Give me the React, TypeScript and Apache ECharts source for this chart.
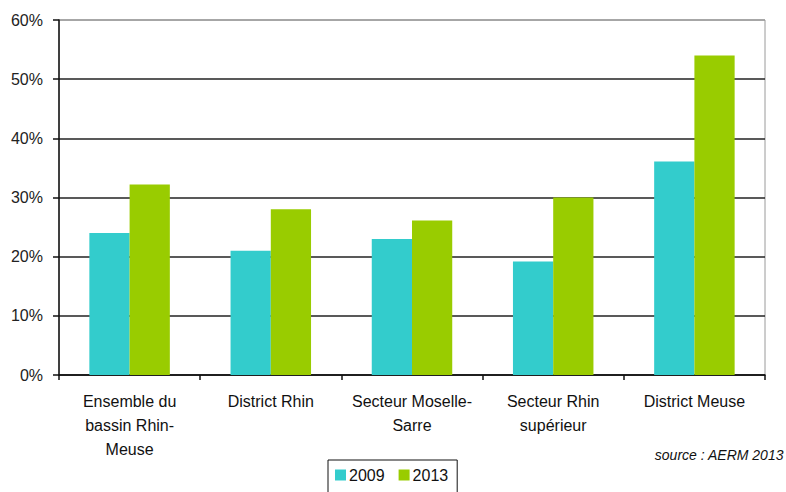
import React, { useEffect, useRef } from "react";
import * as echarts from "echarts";

const categories = [
  "Ensemble du\nbassin Rhin-\nMeuse",
  "District Rhin",
  "Secteur Moselle-\nSarre",
  "Secteur Rhin\nsupérieur",
  "District Meuse",
];
const values2009 = [24, 21, 23, 19.2, 36.1];
const values2013 = [32.2, 28, 26.1, 30, 54];
const seriesNames = ["2009", "2013"];
const sourceText = "source : AERM 2013";

export default function App() {
  const ref = useRef<HTMLDivElement>(null);
  useEffect(() => {
    if (!ref.current) return;
    const chart = echarts.init(ref.current, null, { renderer: "svg" });
    const font = "'Liberation Sans', Arial, sans-serif";
    chart.setOption({
      animation: false,
      backgroundColor: "#ffffff",
      textStyle: { fontFamily: font },
      grid: {
        left: 59,
        right: 21,
        top: 20,
        bottom: 117,
        show: true,
        borderColor: "#9a9a9a",
        borderWidth: 1,
        backgroundColor: "transparent",
      },
      legend: {
        data: seriesNames,
        left: 328,
        top: 460,
        icon: "rect",
        itemWidth: 11,
        itemHeight: 11,
        itemGap: 14,
        padding: [7, 9, 10, 7],
        borderColor: "#111",
        borderWidth: 1,
        textStyle: { fontSize: 16, color: "#111", fontFamily: font, padding: [0, 0, 0, -2] },
      },
      xAxis: {
        type: "category",
        data: categories,
        axisLine: { lineStyle: { color: "#111", width: 1.5 } },
        axisTick: { show: true, length: 5, lineStyle: { color: "#111", width: 1.5 } },
        axisLabel: {
          interval: 0,
          fontSize: 16,
          lineHeight: 24,
          color: "#111",
          margin: 14,
          fontFamily: font,
        },
        splitLine: { show: false },
      },
      yAxis: {
        type: "value",
        min: 0,
        max: 60,
        interval: 10,
        axisLine: { show: true, lineStyle: { color: "#111", width: 1.5 } },
        axisTick: { show: true, length: 6, lineStyle: { color: "#111", width: 1.5 } },
        axisLabel: {
          formatter: "{value}%",
          fontSize: 16,
          color: "#222",
          margin: 16,
          fontFamily: font,
        },
        splitLine: {
          show: true,
          lineStyle: {
            color: ["#222", "#222", "#222", "#222", "#222", "#222", "#9a9a9a"],
            width: 1.5,
          },
        },
      },
      series: [
        {
          name: seriesNames[0],
          type: "bar",
          data: values2009,
          itemStyle: { color: "#33CCCC" },
          barGap: "0%",
          barCategoryGap: "43%",
        },
        {
          name: seriesNames[1],
          type: "bar",
          data: values2013,
          itemStyle: { color: "#99CC00" },
          barGap: "0%",
          barCategoryGap: "43%",
        },
      ],
      graphic: [
        {
          type: "text",
          right: 2,
          top: 448,
          style: {
            text: sourceText,
            fontSize: 14,
            fontStyle: "italic",
            fill: "#111",
            fontFamily: font,
          },
        },
      ],
    });
    return () => chart.dispose();
  }, []);
  return <div ref={ref} style={{ width: 786, height: 492, position: "absolute", left: 0, top: 0 }} />;
}
